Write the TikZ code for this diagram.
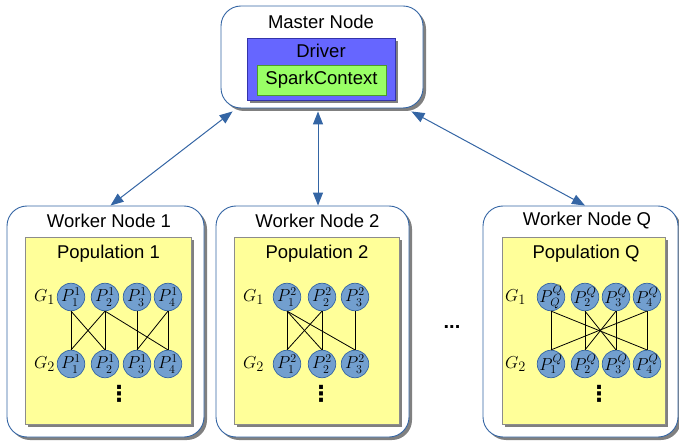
\documentclass[tikz,border=0pt]{standalone}
\usepackage{fontspec}
\setmainfont{Liberation Sans}
\newfontfamily\djv{DejaVu Sans}
\usetikzlibrary{shadows,arrows.meta,calc}
\definecolor{bord}{HTML}{3465A4}
\definecolor{pblue}{HTML}{729FCF}
\definecolor{yel}{HTML}{FFFF99}
\definecolor{drv}{HTML}{6666FF}
\definecolor{drvb}{HTML}{3333AA}
\definecolor{grn}{HTML}{99FF66}
\definecolor{grnb}{HTML}{4C9A2A}
\begin{document}
\begin{tikzpicture}[x=1pt,y=-1pt,
  font=\fontsize{18.5}{21}\selectfont,
  shd/.style={drop shadow={shadow xshift=3pt, shadow yshift=-3pt, fill=black!50, opacity=1}},
  outerbox/.style={draw=bord, line width=0.9pt, fill=white, rounded corners=20pt, shd, inner sep=0pt},
  popbox/.style={draw=black!45, line width=0.6pt, fill=yel, shd, inner sep=0pt, minimum height=187pt},
  pnode/.style={circle, draw=bord, line width=0.7pt, fill=pblue, minimum size=27.5pt, inner sep=-5pt, font=\fontsize{18}{20}\selectfont},
  link/.style={draw=black, line width=0.8pt},
  conn/.style={draw=bord, line width=1pt, {Triangle[length=13pt,width=10pt]}-{Triangle[length=13pt,width=10pt]}},
  lbl/.style={inner sep=0pt},
  glbl/.style={inner sep=0pt, font=\fontsize{19}{20}\selectfont},
  vdot/.style={inner sep=0pt, font=\djv\bfseries\fontsize{22}{22}\selectfont}
]
\useasboundingbox (0,0) rectangle (679,443);

% Master node
\node[outerbox, minimum width=202pt, minimum height=102pt] (master) at (322,57) {};
\node[lbl] (mtitle) at (321,22) {Master Node};
\node[draw=drvb, line width=0.6pt, fill=drv, shd, minimum width=148pt, minimum height=62pt, inner sep=0pt] (driver) at (321,69) {};
\node[lbl] (dtitle) at (321,51) {Driver};
\node[draw=grnb, line width=0.6pt, fill=grn, minimum width=129pt, minimum height=30pt, inner sep=0pt] (spark) at (321.5,80) {SparkContext};

% Worker boxes
\node[outerbox, minimum width=197pt, minimum height=231pt] (w1) at (105.5,321.5) {};
\node[outerbox, minimum width=193pt, minimum height=231pt] (w2) at (312.5,321.5) {};
\node[outerbox, minimum width=195pt, minimum height=231pt] (wq) at (580.5,321.5) {};

\node[popbox, minimum width=166pt] (pop1) at (108,330.5) {};
\node[popbox, minimum width=165pt] (pop2) at (316.5,330.5) {};
\node[popbox, minimum width=163pt] (popq) at (583.5,330.5) {};

\node[lbl] (w1t) at (109,221) {Worker Node 1};
\node[lbl] (w2t) at (317.5,221) {Worker Node 2};
\node[lbl] (wqt) at (587,221) {Worker Node Q};
\node[lbl] (p1t) at (108.5,254) {Population 1};
\node[lbl] (p2t) at (317,254) {Population 2};
\node[lbl] (pqt) at (586,254) {Population Q};

% Arrows
\draw[conn] ($(master.south west)+(12,3)$) -- ($(w1.north)+(5,0)$);
\draw[conn] ($(master.south)+(-4,3)$) -- ($(w2.north)+(5.5,0)$);
\draw[conn] ($(master.south east)+(-12,3)$) -- ($(wq.north)+(4.5,0)$);

% Population 1
\node[glbl] (g11) at (44.5,297) {$G_1$};
\node[glbl] (g12) at (44.5,364) {$G_2$};
\foreach \x [count=\i] in {71,105,137,168} {
  \node[pnode] (p1a\i) at (\x,297) {$P^1_{\i}$};
  \node[pnode] (p1b\i) at (\x,364) {$P^1_{\i}$};
}
\foreach \s/\t in {1/1,1/2,2/1,2/2,2/4,3/3,4/3,4/4}
  \draw[link] (p1a\s.south) -- (p1b\t.north);
\node[vdot] (vd1) at (119,394) {⋮};

% Population 2
\node[glbl] (g21) at (253.5,297) {$G_1$};
\node[glbl] (g22) at (253.5,364) {$G_2$};
\foreach \x [count=\i] in {287,322,355} {
  \node[pnode] (p2a\i) at (\x,297) {$P^2_{\i}$};
  \node[pnode] (p2b\i) at (\x,364) {$P^2_{\i}$};
}
\foreach \s/\t in {1/1,1/2,1/3,2/1,2/2,3/3}
  \draw[link] (p2a\s.south) -- (p2b\t.north);
\node[vdot] (vd2) at (321,394) {⋮};

% Population Q
\node[glbl] (gq1) at (515.5,297) {$G_1$};
\node[glbl] (gq2) at (515.5,364) {$G_2$};
\foreach \x/\s [count=\i] in {551/Q,585/2,616/3,647/4} {
  \node[pnode] (pqa\i) at (\x,297) {$P^Q_{\s}$};
  \node[pnode] (pqb\i) at (\x,364) {$P^Q_{\i}$};
}
\foreach \s/\t in {1/1,1/4,2/2,2/3,3/2,3/3,4/1,4/4}
  \draw[link] (pqa\s.south) -- (pqb\t.north);
\node[vdot] (vdq) at (599,394) {⋮};

% ellipsis between workers
\node[lbl, font=\fontsize{20}{22}\selectfont\bfseries] (hd) at (452,327) {...};
\end{tikzpicture}
\end{document}
